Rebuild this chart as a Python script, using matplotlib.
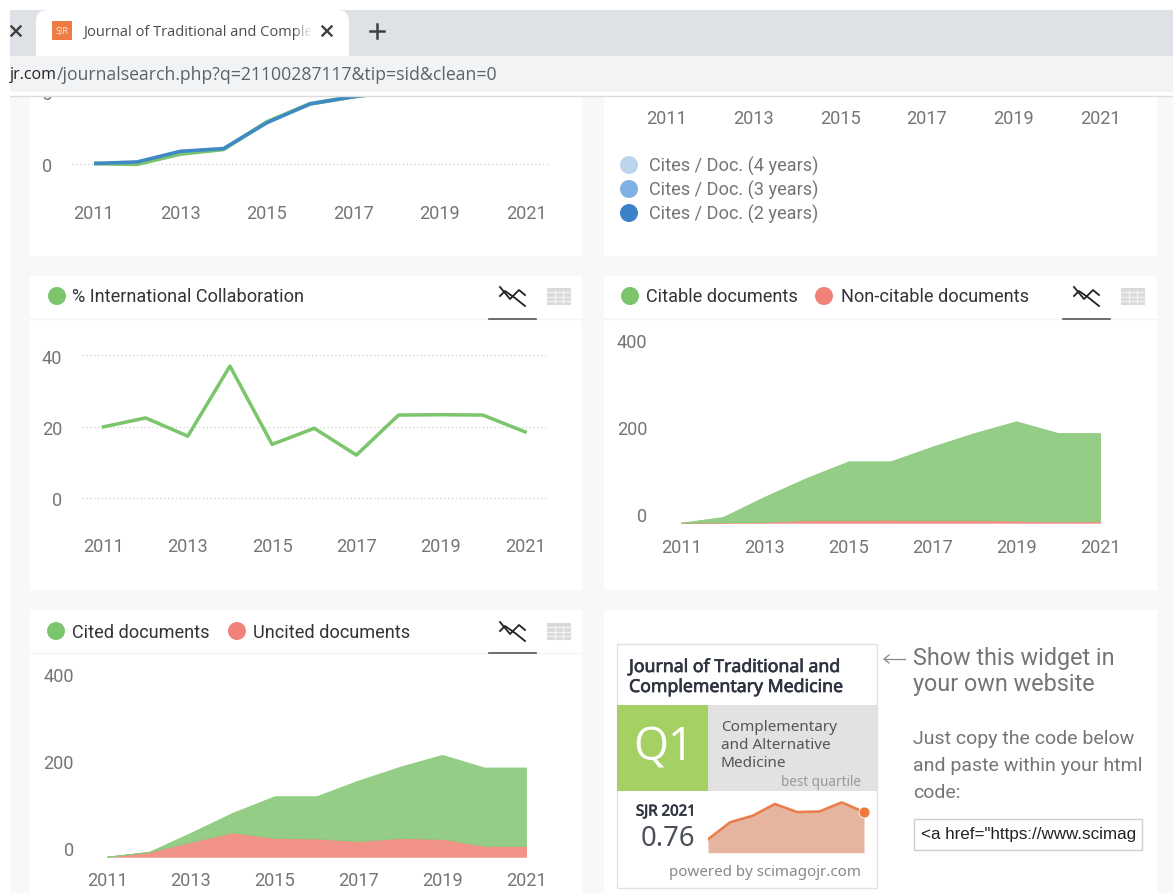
import matplotlib
matplotlib.use("Agg")
import matplotlib.patheffects as pe
import matplotlib.pyplot as plt
from matplotlib.patches import Circle, FancyBboxPatch, Rectangle
from matplotlib.transforms import ScaledTranslation

W, H = 1173, 893

years = list(range(2011, 2022))
tick_years = years[::2]

# top left chart, cut off by the browser bar
self_cites = [0, -0.05, 0.67, 1.0, 2.92, 4.2, 4.7, 5.1]
total_cites = [0, 0.11, 0.86, 1.05, 2.87, 4.2, 4.7, 5.1]
cites_years = years[:8]

intl_collab = [19.9, 22.4, 17.3, 36.9, 15.0, 19.5, 12.0, 23.2, 23.3, 23.2, 18.5]

citable = [0, 12, 58, 97, 135, 134, 169, 200, 228, 203, 202]
non_citable = [0, 1, 2, 6, 6, 7, 6, 6, 5, 3, 4]

cited = [0, 0, 21, 45, 96, 97, 139, 164, 193, 180, 180]
uncited = [0, 11, 34, 56, 43, 42, 36, 43, 41, 25, 25]

sjr_years = list(range(2014, 2022))
sjr_values = [0.25, 0.57, 0.69, 0.91, 0.76, 0.77, 0.94, 0.76]

cites_legend = ["Cites / Doc. (4 years)", "Cites / Doc. (3 years)", "Cites / Doc. (2 years)"]
cites_legend_colors = ["#bcd5ee", "#7fb2e3", "#3b82c9"]

GREEN = "#7bc56c"
RED = "#f0827a"
GREY = "#757575"
DARK = "#3c3c3c"
EDGES = ["#f08a7e", "#8ccb7d"]


def pt(px):
    return px * 0.72


fig = plt.figure(figsize=(W / 100, H / 100), dpi=100, facecolor="white")


def px_axes(zorder):
    ax = fig.add_axes([0, 0, 1, 1], zorder=zorder)
    ax.set_xlim(0, W)
    ax.set_ylim(H, 0)
    ax.axis("off")
    ax.patch.set_alpha(0)
    return ax


def label(ax, x, y, s, size=18, color=DARK, ha="left", family="Roboto", **kw):
    return ax.text(x, y, s, fontsize=pt(size), color=color, ha=ha, va="center", family=family, **kw)


def bold_label(ax, x, y, s, size, color, ha="left", stroke=0.5):
    t = label(ax, x, y, s, size=size, color=color, ha=ha, family="Noto Sans")
    t.set_path_effects([pe.withStroke(linewidth=stroke, foreground=color)])
    return t


def box(ax, x0, y0, x1, y1, color, **kw):
    ax.add_patch(Rectangle((x0, y0), x1 - x0, y1 - y0, facecolor=color, edgecolor="none", **kw))


def chart(left, right, top, bottom, x0, x1, y0, ppu, yticks=(), ytick_shift=0):
    ax = fig.add_axes([left / W, 1 - bottom / H, (right - left) / W, (bottom - top) / H], zorder=2)
    ax.patch.set_alpha(0)
    ax.set_xlim(2011 + (left - x0) * 10 / (x1 - x0), 2011 + (right - x0) * 10 / (x1 - x0))
    ax.set_ylim((y0 - bottom) / ppu, (y0 - top) / ppu)
    for side in ax.spines.values():
        side.set_visible(False)
    ax.set_xticks(tick_years)
    ax.set_yticks(list(yticks))
    ax.tick_params(length=0, colors=GREY, labelsize=pt(18.2), pad=pt(13))
    ax.tick_params(axis="y", pad=pt(20))
    for t in ax.get_xticklabels() + ax.get_yticklabels():
        t.set_family("Roboto")
    if ytick_shift:
        move = ScaledTranslation(0, ytick_shift / 100, fig.dpi_scale_trans)
        for t in ax.get_yticklabels():
            t.set_transform(t.get_transform() + move)
    return ax


def header(ax, tab_x, y, rule_y, items):
    for dot_x, text_x, color, name in items:
        ax.add_patch(Circle((dot_x, y), 9, facecolor=color, edgecolor="none"))
        label(ax, text_x, y + 1.5, name, size=18.1, color="#333333")
    # chart icon
    ax.plot([tab_x + d for d in (-12, -2, 7, 13)], [y + d for d in (-9, 3, -6, -1)], color="#222222", lw=1.3)
    ax.plot([tab_x + d for d in (-12, -7, 3, 13)], [y + d for d in (0, -5, 2, 10)], color="#222222", lw=1.3)
    ax.plot([tab_x - 23, tab_x + 24], [rule_y, rule_y], color="#555555", lw=1.2)
    # table icon
    tx = tab_x + 47
    box(ax, tx - 12, y - 8, tx + 12, y + 9, "#d9d9d9")
    for v in (tx - 4, tx + 4):
        ax.plot([v, v], [y - 5, y + 9], color="#f2f2f2", lw=1)
    for h in (y - 4, y + 1, y + 5):
        ax.plot([tx - 12, tx + 12], [h, h], color="#f2f2f2", lw=1)


# page and panels
page = px_axes(0)
box(page, 10, 10, W, H, "#f8f8f8")
for x0, x1, y0, y1 in [
    (30, 582, 90, 256), (604, 1157, 90, 256),
    (30, 582, 276, 590), (604, 1157, 276, 590),
    (30, 582, 610, H), (604, 1157, 610, H),
]:
    box(page, x0, y0, x1, y1, "white")
for x0, x1, y in [(30, 582, 319), (604, 1157, 319), (30, 582, 653)]:
    page.plot([x0, x1], [y, y], color="#f4f4f4", lw=1)

header(page, 512, 296, 319, [(57, 72, GREEN, "% International Collaboration")])
header(page, 1086, 296, 319, [(630, 646, GREEN, "Citable documents"), (824, 841, RED, "Non-citable documents")])
header(page, 512, 631, 653, [(56, 72, GREEN, "Cited documents"), (237, 253, RED, "Uncited documents")])

for i, (name, color) in enumerate(zip(cites_legend, cites_legend_colors)):
    page.add_patch(Circle((629, 165 + 24 * i), 9, facecolor=color, edgecolor="none"))
    label(page, 649, 166 + 24 * i, name, color=GREY, size=18.2)

# top left: cites
ax = chart(72, 548, 80, 192, 94, 526, 163.5, 71 / 5, yticks=[0, 5], ytick_shift=-1)
ax.grid(axis="y", color="#c8c8c8", linestyle=(0, (1, 2.5)), lw=0.8)
ax.plot(cites_years, self_cites, color=GREEN, lw=pt(4), solid_capstyle="butt")
ax.plot(cites_years, total_cites, color="#3f8ac6", lw=pt(3.6), solid_capstyle="butt")

# top right: only the axis of the cites per doc chart is in view
ax = chart(640, 1140, 90, 97, 667, 1100, 0, 1)

# % international collaboration
ax = chart(82, 548, 340, 525, 103.5, 525, 498, 71.5 / 20, yticks=[0, 20, 40], ytick_shift=-1.5)
ax.grid(axis="y", color="#c8c8c8", linestyle=(0, (1, 2.5)), lw=0.8)
ax.plot(years, intl_collab, color=GREEN, lw=pt(3.5))

# citable / non citable
ax = chart(667, 1120, 335, 526, 681, 1100, 522.7, 87 / 200, yticks=[0, 200, 400], ytick_shift=7.7)
polys = ax.stackplot(years, non_citable, citable, colors=["#f29389", "#94ce86"])
for poly, edge in zip(polys, EDGES):
    poly.set_edgecolor(edge)
    poly.set_linewidth(0.6)

# cited / uncited
ax = chart(94, 540, 665, 859, 107, 526, 856.7, 87 / 200, yticks=[0, 200, 400], ytick_shift=7.7)
polys = ax.stackplot(years, uncited, cited, colors=["#f29389", "#94ce86"])
for poly, edge in zip(polys, EDGES):
    poly.set_edgecolor(edge)
    poly.set_linewidth(0.6)

# widget
page.add_patch(Rectangle((617, 644), 260, 244, facecolor="white", edgecolor="#e2e2e2", lw=1))
bold_label(page, 629, 667, "Journal of Traditional and", 17.7, "#2e3440")
bold_label(page, 629, 687, "Complementary Medicine", 17.7, "#2e3440")
box(page, 617, 705, 708, 791, "#a5d063")
box(page, 708, 705, 877, 791, "#e2e2e2")
label(page, 664, 748, "Q1", size=45, color="white", ha="center", family="Open Sans")
for yy, s in zip((727.5, 745.5, 763.5), ("Complementary", "and Alternative", "Medicine")):
    label(page, 721, yy, s, size=15.3, color="#555555", family="Noto Sans")
label(page, 861, 782, "best quartile", size=13.5, color="#999999", ha="right", family="Noto Sans")
bold_label(page, 666, 812, "SJR 2021", 15, "#2e3440", ha="center")
label(page, 668, 839, "0.76", size=27.5, color="#4a4f57", ha="center", family="Noto Sans")
label(page, 861, 872, "powered by scimagojr.com", size=15.1, color="#888888", ha="right", family="Noto Sans")

spark = fig.add_axes([708 / W, 1 - 852.7 / H, 156 / W, 55 / H], zorder=2)
spark.set_xlim(sjr_years[0], sjr_years[-1])
spark.set_ylim(0, 55 / 53.5)
spark.axis("off")
spark.fill_between(sjr_years, sjr_values, color="#e6b5a0", lw=0)
spark.plot(sjr_years, sjr_values, color="#ea7d4a", lw=pt(2.6))
spark.plot(sjr_years[-1:], sjr_values[-1:], "o", color="#ee7a3b", ms=pt(11), mec="white", mew=0.6, clip_on=False)

# text next to the widget
page.plot([884, 905], [659, 659], color="#888888", lw=0.9)
page.plot([889, 884, 889], [655, 659, 663], color="#888888", lw=0.9)
label(page, 913, 658, "Show this widget in", size=23.4, color=GREY)
label(page, 913, 685, "your own website", size=23.4, color=GREY)
label(page, 913, 739, "Just copy the code below", size=19.5, color=GREY)
label(page, 913, 766, "and paste within your html", size=19.5, color=GREY)
label(page, 913, 793, "code:", size=19.5, color=GREY)
page.add_patch(Rectangle((914, 819), 228, 31, facecolor="white", edgecolor="#cfcfcf", lw=1))
code = label(page, 921, 835, '<a href="https://www.scimagojr.com', size=17, color="#222222", family="Liberation Sans")
code.set_clip_on(True)
code.set_clip_path(Rectangle((921, 819), 214, 31, transform=page.transData))

# browser bars sit over the charts
top = px_axes(5)
box(top, 0, 0, W, 10, "white")
box(top, 0, 0, 10, H, "white")
box(top, 10, 10, W, 56, "#dee1e6")
box(top, 10, 56, W, 92, "#f1f3f4")
box(top, 10, 92, W, 97, "white")
top.plot([10, W], [95.5, 95.5], color="#dadce0", lw=1)
tab = FancyBboxPatch((36, 10), 313, 60, boxstyle="round,pad=0,rounding_size=11", facecolor="white", edgecolor="none")
top.add_patch(tab)
tab.set_clip_path(Rectangle((0, 0), W, 56, transform=top.transData))

box(top, 52, 21, 72, 40, "#ee7b43")
label(top, 62, 31, "SJR", size=9, color="#fbe3d6", ha="center", family="Noto Sans")
label(top, 83, 32, "Journal of Traditional and Comple", size=14.6, color="#4a4d52", family="Open Sans")
for i in range(8):
    box(top, 296 + i * 2, 18, 298 + i * 2, 44, "white", alpha=0.25 + i * 0.1, zorder=4)
box(top, 312, 18, 345, 44, "white", zorder=4)
for cx in (16, 327):
    top.plot([cx - 4.5, cx + 4.5], [26.5, 35.5], color="#3c4043", lw=1.7, zorder=5)
    top.plot([cx - 4.5, cx + 4.5], [35.5, 26.5], color="#3c4043", lw=1.7, zorder=5)
top.plot([370, 384], [31, 31], color="#3c4043", lw=1.8)
top.plot([377, 377], [24, 38], color="#3c4043", lw=1.8)
label(top, 10, 75, "jr.com", size=16, color="#202124", family="Open Sans")
label(top, 57, 75, "/journalsearch.php?q=21100287117&tip=sid&clean=0", size=17.6, color="#5f6368", family="Open Sans")

fig.savefig("out.png", dpi=100)
